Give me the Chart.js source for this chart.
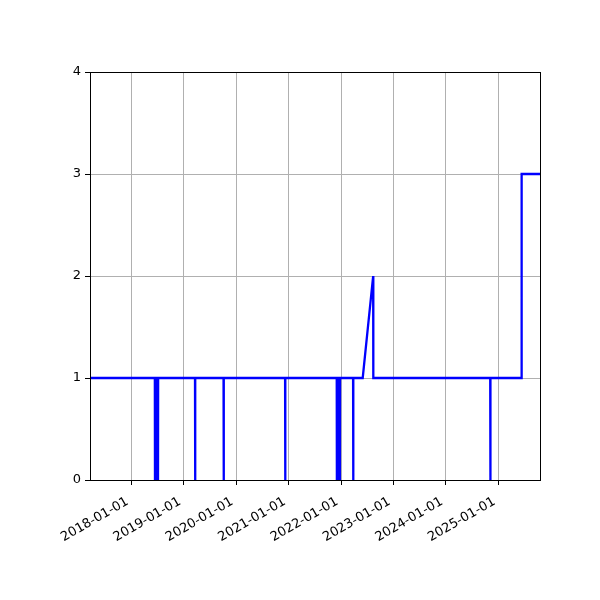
<!DOCTYPE html>
<html>
<head>
<meta charset="utf-8">
<script src="https://cdn.jsdelivr.net/npm/chart.js@4"></script>
<style>
  html, body { margin: 0; padding: 0; background: #fff; }
  #wrap { width: 600px; height: 600px; }
</style>
</head>
<body>
<div id="wrap"><canvas id="c" width="600" height="600"></canvas></div>
<script>
// change points of the series (daily values, only turning points listed)
const dates = [
    '2017-03-17',
    '2018-06-12', '2018-06-13', '2018-06-14',
    '2018-06-22', '2018-06-23', '2018-06-24',
    '2018-07-03', '2018-07-04', '2018-07-05',
    '2019-03-19', '2019-03-20', '2019-03-21',
    '2019-10-04', '2019-10-05', '2019-10-06',
    '2020-12-06', '2020-12-07', '2020-12-08',
    '2021-12-01', '2021-12-02', '2021-12-03',
    '2021-12-12', '2021-12-13', '2021-12-14',
    '2021-12-22', '2021-12-23', '2021-12-24',
    '2022-03-25', '2022-03-26', '2022-03-27',
    '2022-05-31', '2022-08-12', '2022-08-13',
    '2024-11-05', '2024-11-06', '2024-11-07',
    '2025-06-11', '2025-06-12', '2025-10-18'
]
const values = [
    1,
    1, 0, 1,
    1, 0, 1,
    1, 0, 1,
    1, 0, 1,
    1, 0, 1,
    1, 0, 1,
    1, 0, 1,
    1, 0, 1,
    1, 0, 1,
    1, 0, 1,
    1, 2, 1,
    1, 0, 1,
    1, 3, 3
]
const tickYears = [2018, 2019, 2020, 2021, 2022, 2023, 2024, 2025]
const yTicks = [0, 1, 2, 3, 4]
const xMin = '2017-03-17'
const xMax = '2025-10-18'

const toMs = s => Date.parse(s + 'T00:00:00Z')
const pad = n => String(n).padStart(2, '0')
const fmt = ms => {
    const d = new Date(ms)
    return d.getUTCFullYear() + '-' + pad(d.getUTCMonth() + 1) + '-' + pad(d.getUTCDate())
}

const frame = {
    id: 'frame',
    afterDraw(chart) {
        const { ctx, chartArea: a } = chart
        ctx.save()
        ctx.strokeStyle = '#000'
        ctx.lineWidth = 1
        ctx.strokeRect(Math.round(a.left) + 0.5, Math.round(a.top) + 0.5,
            Math.round(a.right - a.left), Math.round(a.bottom - a.top))
        ctx.restore()
    }
}

const font = { family: 'DejaVu Sans', size: 13 }

new Chart(document.getElementById('c').getContext('2d'), {
    type: 'line',
    data: {
        datasets: [{
            data: dates.map((d, i) => ({ x: toMs(d), y: values[i] })),
            borderColor: '#0000ff',
            borderWidth: 2.3,
            pointRadius: 0,
            tension: 0,
            fill: false,
        }]
    },
    options: {
        responsive: false,
        animation: false,
        devicePixelRatio: 1,
        layout: { padding: { left: 0, right: 60, top: 72, bottom: 0 } },
        plugins: { legend: { display: false }, tooltip: { enabled: false } },
        scales: {
            x: {
                type: 'linear',
                min: toMs(xMin),
                max: toMs(xMax),
                afterBuildTicks: s => { s.ticks = tickYears.map(y => ({ value: Date.UTC(y, 0, 1) })) },
                afterFit: s => { s.height = 120 },
                ticks: {
                    color: '#000', font, minRotation: 30, maxRotation: 30, padding: 9,
                    labelOffset: -4, autoSkip: false,
                    callback: v => fmt(v)
                },
                grid: { color: '#b0b0b0', lineWidth: 1, tickLength: 5, tickColor: '#000' },
                border: { color: '#000', width: 1 }
            },
            y: {
                min: 0,
                max: 4,
                afterBuildTicks: s => { s.ticks = yTicks.map(v => ({ value: v })) },
                afterFit: s => { s.width = 90 },
                ticks: { color: '#000', font, padding: 4 },
                grid: { color: '#b0b0b0', lineWidth: 1, tickLength: 5, tickColor: '#000' },
                border: { color: '#000', width: 1 }
            }
        }
    },
    plugins: [frame]
})
</script>
</body>
</html>
